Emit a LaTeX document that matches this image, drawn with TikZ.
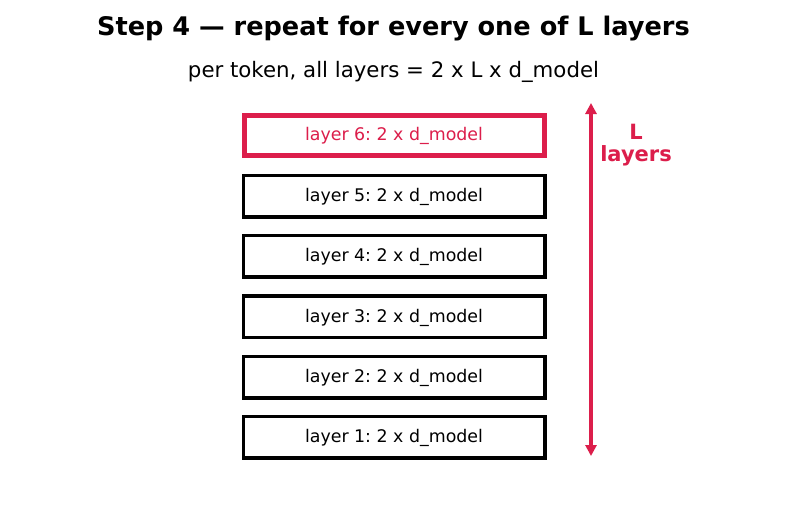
\documentclass[tikz,border=0pt]{standalone}
\usepackage{fontspec}
\setmainfont{DejaVu Sans}
\usetikzlibrary{arrows.meta}
\definecolor{crim}{RGB}{220,30,75}
\frenchspacing
\begin{document}
\begin{tikzpicture}[x=1pt,y=-1pt,
  layerbox/.style={draw=black,line width=3.5pt,minimum width=301.5pt,minimum height=41.5pt,inner sep=0pt,text height=16pt,text depth=4.2pt,font=\fontsize{17.4}{20}\selectfont,fill=white},
  topbox/.style={layerbox,draw=crim,line width=5pt,minimum width=300pt,minimum height=40pt,text=crim},
  lbl/.style={font=\bfseries\fontsize{21}{25}\selectfont,text=crim,align=center}]
\useasboundingbox[fill=white] (0,0) rectangle (787,512);
\node[font=\bfseries\fontsize{25.6}{30}\selectfont] (title) at (393.5,28.5) {Step 4 — repeat for every one of L layers};
\node[font=\fontsize{21.3}{25}\selectfont] (sub) at (393.5,71.5) {per token, all layers = 2 x L x d\_model};
\node[topbox] (l6) at (394,135) {layer 6: 2 x d\_model};
\node[layerbox] (l5) at (394,196) {layer 5: 2 x d\_model};
\node[layerbox] (l4) at (394,256) {layer 4: 2 x d\_model};
\node[layerbox] (l3) at (394,316.5) {layer 3: 2 x d\_model};
\node[layerbox] (l2) at (394,377) {layer 2: 2 x d\_model};
\node[layerbox] (l1) at (394,437) {layer 1: 2 x d\_model};
\coordinate (atop) at (591,103);
\coordinate (abot) at (591,456);
\draw[crim,line width=4pt,{Triangle[length=11pt,width=11pt]}-{Triangle[length=11pt,width=11pt]}] (atop) -- (abot);
\node[lbl,inner sep=0pt] (L) at (636,145) {L\\[-3pt]layers};
\end{tikzpicture}
\end{document}
